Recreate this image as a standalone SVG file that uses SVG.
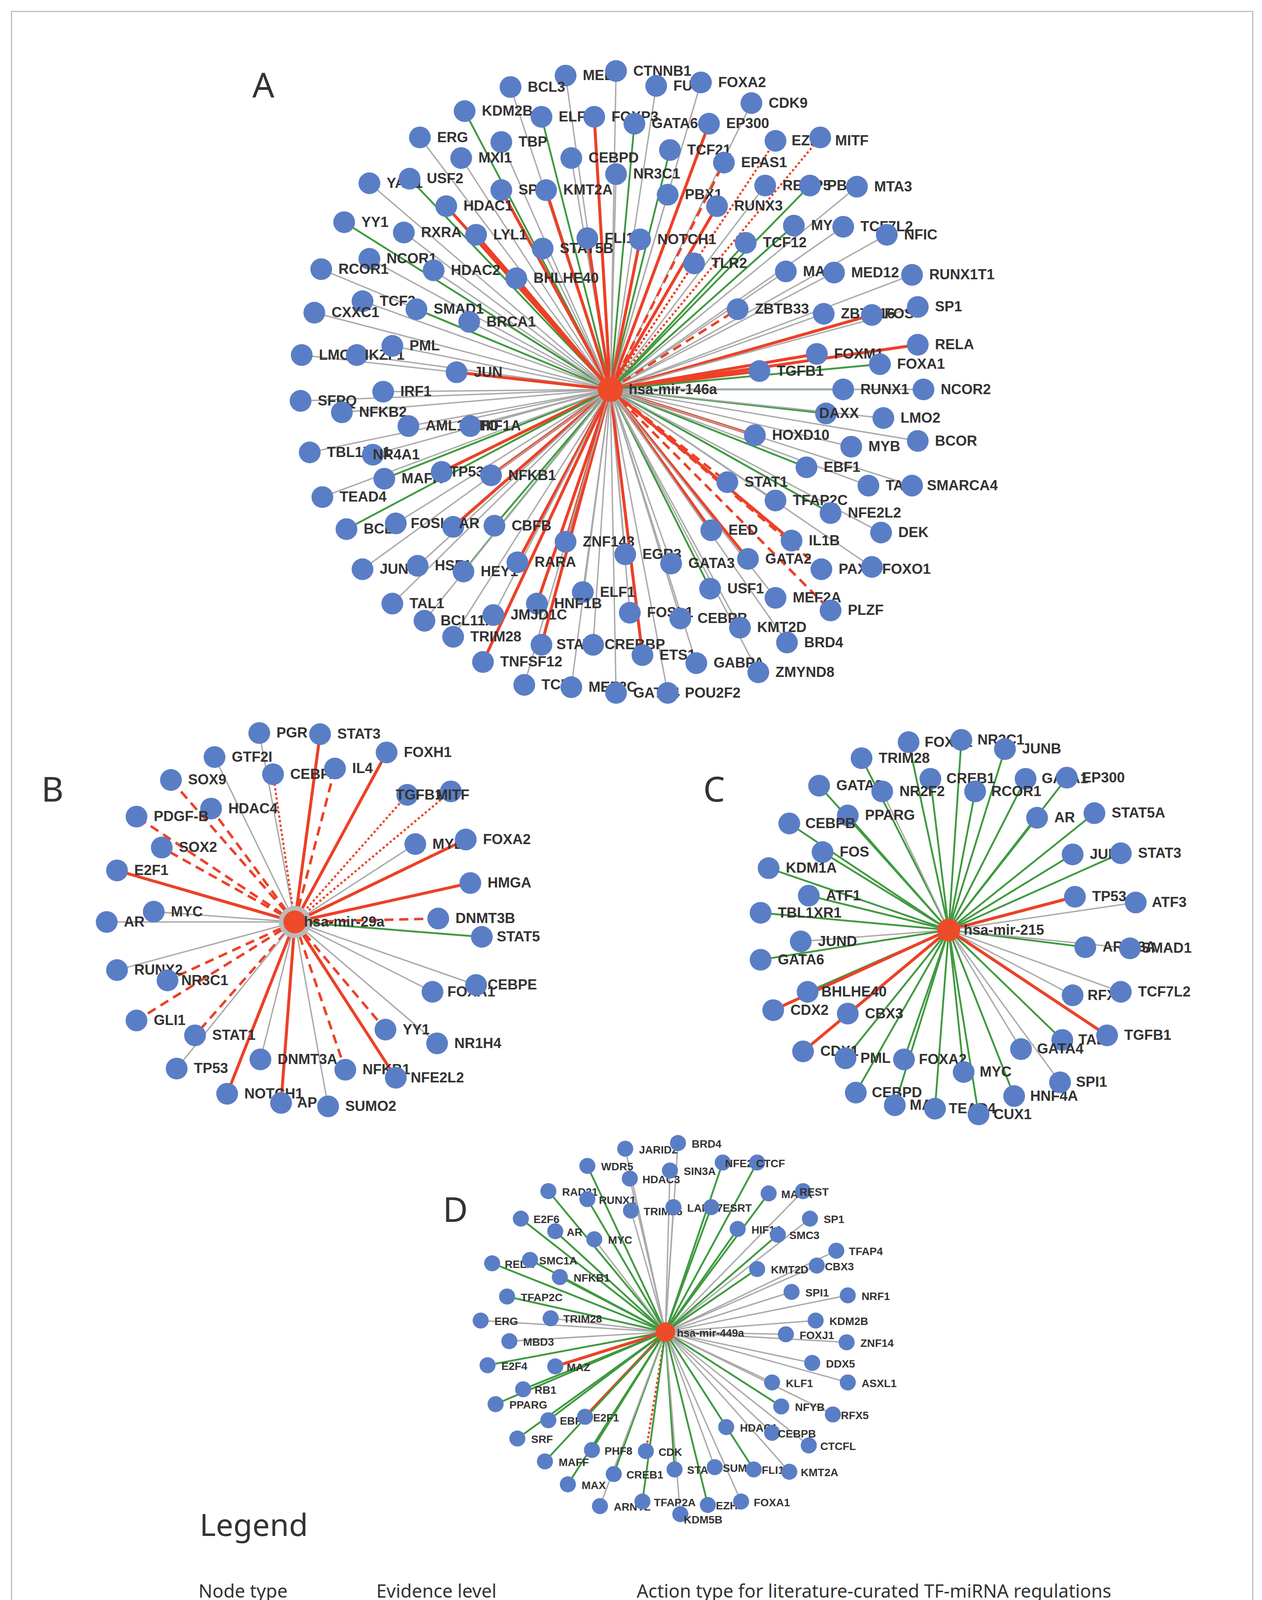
<svg xmlns="http://www.w3.org/2000/svg" width="3232" height="4598" viewBox="0 0 3232 4598">
<style>
.n{fill:#5a7ec6}
.h{fill:#ee4b2b}
.t{font-family:"Liberation Sans",Arial,sans-serif;font-weight:bold;font-size:12.5px;fill:#333}
.ts{font-family:"Liberation Sans",Arial,sans-serif;font-weight:bold;font-size:9.5px;fill:#333}
.L{font-family:"Noto Sans","Open Sans",sans-serif;fill:#333}
line{fill:none}
.g{stroke:#aaa;stroke-width:1.2}
.gr{stroke:#3f9a3f;stroke-width:1.6}
.r{stroke:#ec4127;stroke-width:2.6}
.rd{stroke:#ec4127;stroke-width:2.2;stroke-dasharray:8 5}
.rt{stroke:#ec4127;stroke-width:1.8;stroke-dasharray:2 2}
</style>
<defs>
<marker id="ak" viewBox="0 0 10 10" refX="10" refY="5" markerWidth="7" markerHeight="7" orient="auto"><path d="M0,1 L10,5 L0,9 z" fill="#111"/></marker>
<marker id="ag" viewBox="0 0 10 10" refX="10" refY="5" markerWidth="7" markerHeight="7" orient="auto"><path d="M0,1 L10,5 L0,9 z" fill="#3f9a3f"/></marker>
<marker id="ar" viewBox="0 0 10 10" refX="10" refY="5" markerWidth="7" markerHeight="7" orient="auto"><path d="M0,1 L10,5 L0,9 z" fill="#ec4127"/></marker>
</defs>
<rect width="3232" height="4598" fill="#fff"/>
<g transform="scale(2.938,2.932)">
<rect x="10" y="10" width="1082" height="1546" fill="none" stroke="#bbb" stroke-width="1"/>
<g class="L" font-size="30"><text x="220" y="85">A</text><text x="36" y="700">B</text><text x="613" y="700">C</text><text x="386" y="1067">D</text></g>

<g id="connectors">
<g transform="translate(532,340)">
<line class="g" x2="-39" y2="-274"/><line class="g" x2="5" y2="-278"/><line class="g" x2="40" y2="-265"/><line class="g" x2="79" y2="-268"/><line class="g" x2="-87" y2="-264"/><line class="gr" x2="-127" y2="-243"/><line class="gr" x2="-60" y2="-238"/><line class="r" x2="-14" y2="-238"/><line class="gr" x2="21" y2="-232"/><line class="g" x2="123" y2="-250"/><line class="r" x2="86" y2="-232"/><line class="g" x2="-166" y2="-220"/><line class="g" x2="-95" y2="-216"/><line class="g" x2="-130" y2="-202"/><line class="g" x2="-34" y2="-202"/><line class="gr" x2="52" y2="-209"/><line class="rd" x2="99" y2="-198"/><line class="rt" x2="144" y2="-217"/><line class="rt" x2="183" y2="-220"/>
<line class="g" x2="-210" y2="-180"/><line class="gr" x2="-175" y2="-184"/><line class="r" x2="-95" y2="-174"/><line class="r" x2="-56" y2="-174"/><line class="g" x2="5" y2="-188"/><line class="g" x2="50" y2="-170"/><line class="g" x2="135" y2="-178"/><line class="gr" x2="174" y2="-178"/><line class="g" x2="215" y2="-177"/><line class="r" x2="-143" y2="-160"/><line class="r" x2="-117" y2="-135"/><line class="r" x2="93" y2="-160"/><line class="gr" x2="-232" y2="-146"/><line class="g" x2="-180" y2="-137"/><line class="gr" x2="160" y2="-143"/><line class="g" x2="203" y2="-142"/><line class="g" x2="241" y2="-135"/><line class="g" x2="-59" y2="-123"/><line class="r" x2="-20" y2="-132"/><line class="r" x2="26" y2="-131"/><line class="gr" x2="118" y2="-128"/>
<line class="g" x2="-210" y2="-114"/><line class="g" x2="-154" y2="-104"/><line class="r" x2="-82" y2="-97"/><line class="rt" x2="73" y2="-110"/><line class="g" x2="153" y2="-103"/><line class="g" x2="195" y2="-102"/><line class="g" x2="263" y2="-100"/><line class="g" x2="-252" y2="-105"/><line class="g" x2="-216" y2="-77"/><line class="gr" x2="-169" y2="-70"/><line class="g" x2="-123" y2="-59"/><line class="rd" x2="111" y2="-70"/><line class="g" x2="186" y2="-66"/><line class="r" x2="228" y2="-65"/><line class="g" x2="268" y2="-72"/><line class="g" x2="-258" y2="-67"/><line class="g" x2="-269" y2="-30"/><line class="g" x2="-221" y2="-30"/><line class="g" x2="-190" y2="-38"/><line class="r" x2="-134" y2="-15"/><line class="r" x2="180" y2="-31"/><line class="r" x2="268" y2="-39"/><line class="r" x2="130" y2="-16"/><line class="gr" x2="235" y2="-22"/>
<line class="g" x2="-270" y2="10"/><line class="g" x2="-234" y2="20"/><line class="g" x2="-198" y2="2"/><line class="gr" x2="203" y2="0"/><line class="g" x2="273" y2="0"/><line class="g" x2="-176" y2="32"/><line class="g" x2="-122" y2="32"/><line class="gr" x2="188" y2="21"/><line class="g" x2="238" y2="25"/><line class="g" x2="-262" y2="55"/><line class="g" x2="-207" y2="57"/><line class="r" x2="126" y2="40"/><line class="g" x2="210" y2="50"/><line class="g" x2="268" y2="45"/><line class="gr" x2="-197" y2="78"/><line class="r" x2="-147" y2="72"/><line class="r" x2="-104" y2="75"/><line class="gr" x2="171" y2="68"/><line class="g" x2="225" y2="84"/><line class="g" x2="263" y2="84"/>
<line class="g" x2="-251" y2="94"/><line class="rd" x2="102" y2="81"/><line class="g" x2="144" y2="97"/><line class="gr" x2="192" y2="108"/><line class="gr" x2="-230" y2="122"/><line class="g" x2="-187" y2="117"/><line class="r" x2="-137" y2="120"/><line class="gr" x2="-101" y2="119"/><line class="r" x2="88" y2="123"/><line class="g" x2="236" y2="125"/><line class="r" x2="158" y2="132"/><line class="r" x2="-39" y2="133"/><line class="g" x2="13" y2="144"/><line class="g" x2="53" y2="152"/><line class="r" x2="120" y2="148"/><line class="rd" x2="184" y2="157"/><line class="g" x2="228" y2="155"/>
<line class="g" x2="-216" y2="157"/><line class="g" x2="-168" y2="154"/><line class="gr" x2="-128" y2="159"/><line class="r" x2="-81" y2="151"/><line class="g" x2="-24" y2="177"/><line class="gr" x2="87" y2="174"/><line class="g" x2="144" y2="182"/><line class="rd" x2="192" y2="193"/><line class="g" x2="-190" y2="187"/><line class="g" x2="-162" y2="202"/><line class="r" x2="-64" y2="187"/><line class="g" x2="-102" y2="197"/><line class="g" x2="17" y2="195"/><line class="g" x2="61" y2="200"/><line class="g" x2="113" y2="208"/><line class="g" x2="-137" y2="216"/><line class="r" x2="-60" y2="223"/><line class="g" x2="-15" y2="223"/><line class="r" x2="28" y2="232"/><line class="g" x2="154" y2="221"/><line class="r" x2="-111" y2="238"/><line class="g" x2="75" y2="239"/><line class="g" x2="129" y2="247"/><line class="g" x2="-75" y2="258"/><line class="g" x2="-34" y2="260"/><line class="g" x2="5" y2="265"/><line class="g" x2="50" y2="265"/>
</g>
<g transform="translate(257,805)">
<line class="g" x2="-31" y2="-165"/><line class="r" x2="22" y2="-164"/><line class="g" x2="-70" y2="-144"/><line class="rt" x2="-19" y2="-129"/><line class="rd" x2="35" y2="-134"/><line class="r" x2="80" y2="-148"/><line class="rd" x2="-108" y2="-124"/><line class="rt" x2="98" y2="-111"/><line class="rt" x2="136" y2="-114"/><line class="rd" x2="-73" y2="-99"/><line class="rd" x2="-138" y2="-92"/><line class="rd" x2="-116" y2="-65"/><line class="g" x2="105" y2="-68"/><line class="r" x2="149" y2="-72"/><line class="r" x2="-155" y2="-45"/><line class="r" x2="153" y2="-34"/><line class="g" x2="-123" y2="-9"/><line class="g" x2="-164" y2="0"/><line class="rd" x2="125" y2="-3"/><line class="gr" x2="163" y2="13"/><line class="g" x2="-155" y2="42"/><line class="rd" x2="-111" y2="51"/><line class="g" x2="120" y2="61"/><line class="g" x2="158" y2="55"/><line class="rd" x2="-138" y2="86"/><line class="rd" x2="-87" y2="99"/><line class="rd" x2="79" y2="94"/><line class="g" x2="124" y2="106"/><line class="g" x2="-103" y2="128"/><line class="g" x2="-30" y2="120"/><line class="rd" x2="44" y2="129"/><line class="r" x2="88" y2="136"/><line class="r" x2="-59" y2="150"/><line class="r" x2="-12" y2="158"/><line class="g" x2="29" y2="161"/>
</g>
<g transform="translate(827,812)">
<line class="gr" x2="-35" y2="-164"/><line class="gr" x2="11" y2="-166"/><line class="gr" x2="49" y2="-158"/><line class="gr" x2="-76" y2="-150"/><line class="gr" x2="-16" y2="-132"/><line class="gr" x2="67" y2="-132"/><line class="gr" x2="103" y2="-133"/><line class="gr" x2="-113" y2="-126"/><line class="g" x2="-58" y2="-121"/><line class="gr" x2="23" y2="-121"/><line class="gr" x2="-88" y2="-100"/><line class="gr" x2="127" y2="-102"/><line class="gr" x2="77" y2="-98"/><line class="gr" x2="-139" y2="-93"/><line class="gr" x2="-110" y2="-68"/><line class="gr" x2="108" y2="-66"/><line class="gr" x2="150" y2="-67"/><line class="gr" x2="-157" y2="-54"/><line class="gr" x2="-122" y2="-30"/><line class="r" x2="110" y2="-29"/><line class="g" x2="163" y2="-24"/><line class="gr" x2="-164" y2="-15"/><line class="g" x2="-129" y2="10"/><line class="gr" x2="119" y2="15"/><line class="g" x2="158" y2="16"/><line class="gr" x2="-164" y2="26"/><line class="gr" x2="-123" y2="54"/><line class="g" x2="108" y2="57"/><line class="g" x2="150" y2="54"/><line class="r" x2="-153" y2="70"/><line class="gr" x2="-88" y2="73"/><line class="r" x2="-127" y2="106"/><line class="gr" x2="-90" y2="112"/><line class="gr" x2="99" y2="96"/><line class="r" x2="138" y2="92"/><line class="gr" x2="-39" y2="113"/><line class="g" x2="63" y2="104"/><line class="gr" x2="13" y2="124"/><line class="gr" x2="-81" y2="142"/><line class="gr" x2="57" y2="145"/><line class="g" x2="97" y2="133"/><line class="gr" x2="-47" y2="153"/><line class="gr" x2="-12" y2="156"/><line class="gr" x2="26" y2="161"/>
</g>
<g transform="translate(580,1163)">
<line class="g" x2="-35" y2="-160"/><line class="g" x2="11" y2="-165"/><line class="gr" x2="-68" y2="-145"/><line class="g" x2="-31" y2="-134"/><line class="g" x2="4" y2="-141"/><line class="gr" x2="50" y2="-148"/><line class="gr" x2="80" y2="-148"/><line class="gr" x2="-102" y2="-123"/><line class="gr" x2="-68" y2="-116"/><line class="g" x2="-30" y2="-106"/><line class="g" x2="7" y2="-109"/><line class="gr" x2="40" y2="-109"/><line class="gr" x2="90" y2="-121"/><line class="g" x2="120" y2="-123"/><line class="gr" x2="-126" y2="-99"/><line class="g" x2="126" y2="-99"/><line class="gr" x2="-96" y2="-88"/><line class="g" x2="-62" y2="-81"/><line class="gr" x2="63" y2="-90"/><line class="gr" x2="98" y2="-85"/><line class="g" x2="149" y2="-71"/><line class="gr" x2="-151" y2="-60"/><line class="gr" x2="-118" y2="-63"/><line class="gr" x2="-92" y2="-48"/><line class="gr" x2="80" y2="-55"/><line class="g" x2="132" y2="-58"/><line class="gr" x2="-138" y2="-31"/><line class="g" x2="110" y2="-35"/><line class="g" x2="159" y2="-32"/><line class="g" x2="-161" y2="-10"/><line class="g" x2="-100" y2="-12"/><line class="g" x2="-136" y2="8"/><line class="g" x2="131" y2="-10"/><line class="g" x2="105" y2="2"/><line class="g" x2="158" y2="9"/><line class="gr" x2="-155" y2="29"/><line class="r" x2="-96" y2="30"/><line class="g" x2="128" y2="27"/><line class="gr" x2="-124" y2="50"/><line class="g" x2="93" y2="44"/><line class="g" x2="159" y2="44"/><line class="gr" x2="-148" y2="63"/><line class="gr" x2="-102" y2="77"/><line class="r" x2="-70" y2="74"/><line class="gr" x2="101" y2="65"/><line class="g" x2="146" y2="72"/><line class="g" x2="53" y2="83"/><line class="g" x2="93" y2="88"/><line class="gr" x2="-129" y2="93"/><line class="g" x2="125" y2="99"/><line class="gr" x2="-64" y2="103"/><line class="rt" x2="-17" y2="104"/><line class="gr" x2="-105" y2="113"/><line class="gr" x2="-45" y2="124"/><line class="gr" x2="8" y2="120"/><line class="g" x2="43" y2="118"/><line class="gr" x2="77" y2="120"/><line class="g" x2="108" y2="122"/><line class="gr" x2="-85" y2="133"/><line class="g" x2="-57" y2="152"/><line class="gr" x2="-20" y2="148"/><line class="gr" x2="37" y2="151"/><line class="g" x2="66" y2="148"/><line class="g" x2="13" y2="159"/>
</g>
</g>

<g id="panelA-nodes" class="t">
<g id="A-hub"><circle class="h" cx="532" cy="340" r="11"/><text x="548" y="344">hsa-mir-146a</text></g>
<g id="A-MED1"><circle class="n" cx="493" cy="66" r="9.5"/><text x="508" y="70">MED1</text></g>
<g id="A-CTNNB1"><circle class="n" cx="537" cy="62" r="9.5"/><text x="552" y="66">CTNNB1</text></g>
<g id="A-FUS"><circle class="n" cx="572" cy="75" r="9.5"/><text x="587" y="79">FUS</text></g>
<g id="A-FOXA2"><circle class="n" cx="611" cy="72" r="9.5"/><text x="626" y="76">FOXA2</text></g>
<g id="A-BCL3"><circle class="n" cx="445" cy="76" r="9.5"/><text x="460" y="80">BCL3</text></g>
<g id="A-KDM2B"><circle class="n" cx="405" cy="97" r="9.5"/><text x="420" y="101">KDM2B</text></g>
<g id="A-ELF3"><circle class="n" cx="472" cy="102" r="9.5"/><text x="487" y="106">ELF3</text></g>
<g id="A-FOXP3"><circle class="n" cx="518" cy="102" r="9.5"/><text x="533" y="106">FOXP3</text></g>
<g id="A-GATA6"><circle class="n" cx="553" cy="108" r="9.5"/><text x="568" y="112">GATA6</text></g>
<g id="A-CDK9"><circle class="n" cx="655" cy="90" r="9.5"/><text x="670" y="94">CDK9</text></g>
<g id="A-EP300"><circle class="n" cx="618" cy="108" r="9.5"/><text x="633" y="112">EP300</text></g>
<g id="A-ERG"><circle class="n" cx="366" cy="120" r="9.5"/><text x="381" y="124">ERG</text></g>
<g id="A-TBP"><circle class="n" cx="437" cy="124" r="9.5"/><text x="452" y="128">TBP</text></g>
<g id="A-MXI1"><circle class="n" cx="402" cy="138" r="9.5"/><text x="417" y="142">MXI1</text></g>
<g id="A-CEBPD"><circle class="n" cx="498" cy="138" r="9.5"/><text x="513" y="142">CEBPD</text></g>
<g id="A-TCF21"><circle class="n" cx="584" cy="131" r="9.5"/><text x="599" y="135">TCF21</text></g>
<g id="A-EPAS1"><circle class="n" cx="631" cy="142" r="9.5"/><text x="646" y="146">EPAS1</text></g>
<g id="A-EZH2"><circle class="n" cx="676" cy="123" r="9.5"/><text x="690" y="127">EZH2</text></g>
<g id="A-MITF"><circle class="n" cx="715" cy="120" r="9.5"/><text x="728" y="127">MITF</text></g>
<g id="A-YAP1"><circle class="n" cx="322" cy="160" r="9.5"/><text x="337" y="164">YAP1</text></g>
<g id="A-USF2"><circle class="n" cx="357" cy="156" r="9.5"/><text x="372" y="160">USF2</text></g>
<g id="A-SPI1"><circle class="n" cx="437" cy="166" r="9.5"/><text x="452" y="170">SPI1</text></g>
<g id="A-KMT2A"><circle class="n" cx="476" cy="166" r="9.5"/><text x="491" y="170">KMT2A</text></g>
<g id="A-NR3C1"><circle class="n" cx="537" cy="152" r="9.5"/><text x="552" y="156">NR3C1</text></g>
<g id="A-PBX1"><circle class="n" cx="582" cy="170" r="9.5"/><text x="597" y="174">PBX1</text></g>
<g id="A-RBBP5"><circle class="n" cx="667" cy="162" r="9.5"/><text x="682" y="166">RBBP5</text></g>
<g id="A-PBX3"><circle class="n" cx="706" cy="162" r="9.5"/><text x="721" y="166">PBX3</text></g>
<g id="A-MTA3"><circle class="n" cx="747" cy="163" r="9.5"/><text x="762" y="167">MTA3</text></g>
<g id="A-HDAC1"><circle class="n" cx="389" cy="180" r="9.5"/><text x="404" y="184">HDAC1</text></g>
<g id="A-LYL1"><circle class="n" cx="415" cy="205" r="9.5"/><text x="430" y="209">LYL1</text></g>
<g id="A-RUNX3"><circle class="n" cx="625" cy="180" r="9.5"/><text x="640" y="184">RUNX3</text></g>
<g id="A-YY1"><circle class="n" cx="300" cy="194" r="9.5"/><text x="315" y="198">YY1</text></g>
<g id="A-RXRA"><circle class="n" cx="352" cy="203" r="9.5"/><text x="367" y="207">RXRA</text></g>
<g id="A-MYC"><circle class="n" cx="692" cy="197" r="9.5"/><text x="707" y="201">MYC</text></g>
<g id="A-TCF7L2"><circle class="n" cx="735" cy="198" r="9.5"/><text x="750" y="202">TCF7L2</text></g>
<g id="A-NFIC"><circle class="n" cx="773" cy="205" r="9.5"/><text x="788" y="209">NFIC</text></g>
<g id="A-STAT5B"><circle class="n" cx="473" cy="217" r="9.5"/><text x="488" y="221">STAT5B</text></g>
<g id="A-FLI1"><circle class="n" cx="512" cy="208" r="9.5"/><text x="527" y="212">FLI1</text></g>
<g id="A-NOTCH1"><circle class="n" cx="558" cy="209" r="9.5"/><text x="573" y="213">NOTCH1</text></g>
<g id="A-TCF12"><circle class="n" cx="650" cy="212" r="9.5"/><text x="665" y="216">TCF12</text></g>
<g id="A-NCOR1"><circle class="n" cx="322" cy="226" r="9.5"/><text x="337" y="230">NCOR1</text></g>
<g id="A-HDAC2"><circle class="n" cx="378" cy="236" r="9.5"/><text x="393" y="240">HDAC2</text></g>
<g id="A-BHLHE40"><circle class="n" cx="450" cy="243" r="9.5"/><text x="465" y="247">BHLHE40</text></g>
<g id="A-TLR2"><circle class="n" cx="605" cy="230" r="9.5"/><text x="620" y="234">TLR2</text></g>
<g id="A-MAX"><circle class="n" cx="685" cy="237" r="9.5"/><text x="700" y="241">MAX</text></g>
<g id="A-MED12"><circle class="n" cx="727" cy="238" r="9.5"/><text x="742" y="242">MED12</text></g>
<g id="A-RUNX1T1"><circle class="n" cx="795" cy="240" r="9.5"/><text x="810" y="244">RUNX1T1</text></g>
<g id="A-RCOR1"><circle class="n" cx="280" cy="235" r="9.5"/><text x="295" y="239">RCOR1</text></g>
<g id="A-TCF3"><circle class="n" cx="316" cy="263" r="9.5"/><text x="331" y="267">TCF3</text></g>
<g id="A-SMAD1"><circle class="n" cx="363" cy="270" r="9.5"/><text x="378" y="274">SMAD1</text></g>
<g id="A-BRCA1"><circle class="n" cx="409" cy="281" r="9.5"/><text x="424" y="285">BRCA1</text></g>
<g id="A-ZBTB33"><circle class="n" cx="643" cy="270" r="9.5"/><text x="658" y="274">ZBTB33</text></g>
<g id="A-ZBTB16"><circle class="n" cx="718" cy="274" r="9.5"/><text x="733" y="278">ZBTB16</text></g>
<g id="A-FOS"><circle class="n" cx="760" cy="275" r="9.5"/><text x="771" y="278">FOS</text></g>
<g id="A-SP1"><circle class="n" cx="800" cy="268" r="9.5"/><text x="815" y="272">SP1</text></g>
<g id="A-CXXC1"><circle class="n" cx="274" cy="273" r="9.5"/><text x="289" y="277">CXXC1</text></g>
<g id="A-LMO3"><circle class="n" cx="263" cy="310" r="9.5"/><text x="278" y="314">LMO3</text></g>
<g id="A-IKZF1"><circle class="n" cx="311" cy="310" r="9.5"/><text x="318" y="314">IKZF1</text></g>
<g id="A-PML"><circle class="n" cx="342" cy="302" r="9.5"/><text x="357" y="306">PML</text></g>
<g id="A-JUN"><circle class="n" cx="398" cy="325" r="9.5"/><text x="413" y="329">JUN</text></g>
<g id="A-FOXM1"><circle class="n" cx="712" cy="309" r="9.5"/><text x="727" y="313">FOXM1</text></g>
<g id="A-RELA"><circle class="n" cx="800" cy="301" r="9.5"/><text x="815" y="305">RELA</text></g>
<g id="A-TGFB1"><circle class="n" cx="662" cy="324" r="9.5"/><text x="677" y="328">TGFB1</text></g>
<g id="A-FOXA1"><circle class="n" cx="767" cy="318" r="9.5"/><text x="782" y="322">FOXA1</text></g>
<g id="A-SFPQ"><circle class="n" cx="262" cy="350" r="9.5"/><text x="277" y="354">SFPQ</text></g>
<g id="A-NFKB2"><circle class="n" cx="298" cy="360" r="9.5"/><text x="313" y="364">NFKB2</text></g>
<g id="A-IRF1"><circle class="n" cx="334" cy="342" r="9.5"/><text x="349" y="346">IRF1</text></g>
<g id="A-RUNX1"><circle class="n" cx="735" cy="340" r="9.5"/><text x="750" y="344">RUNX1</text></g>
<g id="A-NCOR2"><circle class="n" cx="805" cy="340" r="9.5"/><text x="820" y="344">NCOR2</text></g>
<g id="A-AML1-ETO"><circle class="n" cx="356" cy="372" r="9.5"/><text x="371" y="376">AML1-ETO</text></g>
<g id="A-HIF1A"><circle class="n" cx="410" cy="372" r="9.5"/><text x="418" y="376">HIF1A</text></g>
<g id="A-DAXX"><circle class="n" cx="720" cy="361" r="9.5"/><text x="714" y="365">DAXX</text></g>
<g id="A-LMO2"><circle class="n" cx="770" cy="365" r="9.5"/><text x="785" y="369">LMO2</text></g>
<g id="A-TBL1XR1"><circle class="n" cx="270" cy="395" r="9.5"/><text x="285" y="399">TBL1XR1</text></g>
<g id="A-NR4A1"><circle class="n" cx="325" cy="397" r="9.5"/><text x="325" y="401">NR4A1</text></g>
<g id="A-HOXD10"><circle class="n" cx="658" cy="380" r="9.5"/><text x="673" y="384">HOXD10</text></g>
<g id="A-MYB"><circle class="n" cx="742" cy="390" r="9.5"/><text x="757" y="394">MYB</text></g>
<g id="A-BCOR"><circle class="n" cx="800" cy="385" r="9.5"/><text x="815" y="389">BCOR</text></g>
<g id="A-MAFK"><circle class="n" cx="335" cy="418" r="9.5"/><text x="350" y="422">MAFK</text></g>
<g id="A-TP53"><circle class="n" cx="385" cy="412" r="9.5"/><text x="392" y="416">TP53</text></g>
<g id="A-NFKB1"><circle class="n" cx="428" cy="415" r="9.5"/><text x="443" y="419">NFKB1</text></g>
<g id="A-EBF1"><circle class="n" cx="703" cy="408" r="9.5"/><text x="718" y="412">EBF1</text></g>
<g id="A-TAF1"><circle class="n" cx="757" cy="424" r="9.5"/><text x="772" y="428">TAF1</text></g>
<g id="A-SMARCA4"><circle class="n" cx="795" cy="424" r="9.5"/><text x="808" y="428">SMARCA4</text></g>
<g id="A-TEAD4"><circle class="n" cx="281" cy="434" r="9.5"/><text x="296" y="438">TEAD4</text></g>
<g id="A-STAT1"><circle class="n" cx="634" cy="421" r="9.5"/><text x="649" y="425">STAT1</text></g>
<g id="A-TFAP2C"><circle class="n" cx="676" cy="437" r="9.5"/><text x="691" y="441">TFAP2C</text></g>
<g id="A-NFE2L2"><circle class="n" cx="724" cy="448" r="9.5"/><text x="739" y="452">NFE2L2</text></g>
<g id="A-BCL6"><circle class="n" cx="302" cy="462" r="9.5"/><text x="317" y="466">BCL6</text></g>
<g id="A-FOSL2"><circle class="n" cx="345" cy="457" r="9.5"/><text x="358" y="461">FOSL2</text></g>
<g id="A-AR"><circle class="n" cx="395" cy="460" r="9.5"/><text x="400" y="461">AR</text></g>
<g id="A-CBFB"><circle class="n" cx="431" cy="459" r="9.5"/><text x="446" y="463">CBFB</text></g>
<g id="A-EED"><circle class="n" cx="620" cy="463" r="9.5"/><text x="635" y="467">EED</text></g>
<g id="A-DEK"><circle class="n" cx="768" cy="465" r="9.5"/><text x="783" y="469">DEK</text></g>
<g id="A-IL1B"><circle class="n" cx="690" cy="472" r="9.5"/><text x="705" y="476">IL1B</text></g>
<g id="A-ZNF143"><circle class="n" cx="493" cy="473" r="9.5"/><text x="508" y="477">ZNF143</text></g>
<g id="A-EGR3"><circle class="n" cx="545" cy="484" r="9.5"/><text x="560" y="488">EGR3</text></g>
<g id="A-GATA3"><circle class="n" cx="585" cy="492" r="9.5"/><text x="600" y="496">GATA3</text></g>
<g id="A-GATA2"><circle class="n" cx="652" cy="488" r="9.5"/><text x="667" y="492">GATA2</text></g>
<g id="A-PAX5"><circle class="n" cx="716" cy="497" r="9.5"/><text x="731" y="501">PAX5</text></g>
<g id="A-FOXO1"><circle class="n" cx="760" cy="495" r="9.5"/><text x="769" y="501">FOXO1</text></g>
<g id="A-JUND"><circle class="n" cx="316" cy="497" r="9.5"/><text x="331" y="501">JUND</text></g>
<g id="A-HSF1"><circle class="n" cx="364" cy="494" r="9.5"/><text x="379" y="498">HSF1</text></g>
<g id="A-HEY1"><circle class="n" cx="404" cy="499" r="9.5"/><text x="419" y="503">HEY1</text></g>
<g id="A-RARA"><circle class="n" cx="451" cy="491" r="9.5"/><text x="466" y="495">RARA</text></g>
<g id="A-ELF1"><circle class="n" cx="508" cy="517" r="9.5"/><text x="523" y="521">ELF1</text></g>
<g id="A-USF1"><circle class="n" cx="619" cy="514" r="9.5"/><text x="634" y="518">USF1</text></g>
<g id="A-MEF2A"><circle class="n" cx="676" cy="522" r="9.5"/><text x="691" y="526">MEF2A</text></g>
<g id="A-PLZF"><circle class="n" cx="724" cy="533" r="9.5"/><text x="739" y="537">PLZF</text></g>
<g id="A-TAL1"><circle class="n" cx="342" cy="527" r="9.5"/><text x="357" y="531">TAL1</text></g>
<g id="A-BCL11A"><circle class="n" cx="370" cy="542" r="9.5"/><text x="384" y="546">BCL11A</text></g>
<g id="A-HNF1B"><circle class="n" cx="468" cy="527" r="9.5"/><text x="483" y="531">HNF1B</text></g>
<g id="A-JMJD1C"><circle class="n" cx="430" cy="537" r="9.5"/><text x="445" y="541">JMJD1C</text></g>
<g id="A-FOSL1"><circle class="n" cx="549" cy="535" r="9.5"/><text x="564" y="539">FOSL1</text></g>
<g id="A-CEBPB"><circle class="n" cx="593" cy="540" r="9.5"/><text x="608" y="544">CEBPB</text></g>
<g id="A-KMT2D"><circle class="n" cx="645" cy="548" r="9.5"/><text x="660" y="552">KMT2D</text></g>
<g id="A-TRIM28"><circle class="n" cx="395" cy="556" r="9.5"/><text x="410" y="560">TRIM28</text></g>
<g id="A-STAT3"><circle class="n" cx="472" cy="563" r="9.5"/><text x="485" y="567">STAT3</text></g>
<g id="A-CREBBP"><circle class="n" cx="517" cy="563" r="9.5"/><text x="527" y="567">CREBBP</text></g>
<g id="A-ETS1"><circle class="n" cx="560" cy="572" r="9.5"/><text x="575" y="576">ETS1</text></g>
<g id="A-BRD4"><circle class="n" cx="686" cy="561" r="9.5"/><text x="701" y="565">BRD4</text></g>
<g id="A-TNFSF12"><circle class="n" cx="421" cy="578" r="9.5"/><text x="436" y="582">TNFSF12</text></g>
<g id="A-GABPA"><circle class="n" cx="607" cy="579" r="9.5"/><text x="622" y="583">GABPA</text></g>
<g id="A-ZMYND8"><circle class="n" cx="661" cy="587" r="9.5"/><text x="676" y="591">ZMYND8</text></g>
<g id="A-TCF4"><circle class="n" cx="457" cy="598" r="9.5"/><text x="472" y="602">TCF4</text></g>
<g id="A-MEF2C"><circle class="n" cx="498" cy="600" r="9.5"/><text x="513" y="604">MEF2C</text></g>
<g id="A-GATA4"><circle class="n" cx="537" cy="605" r="9.5"/><text x="552" y="609">GATA4</text></g>
<g id="A-POU2F2"><circle class="n" cx="582" cy="605" r="9.5"/><text x="597" y="609">POU2F2</text></g>
</g>

<g id="panelB-nodes" class="t">
<g id="B-hub"><circle cx="257" cy="805" r="14" fill="#bbb"/><circle class="h" cx="257" cy="805" r="10"/><text x="265" y="809">hsa-mir-29a</text></g>
<g id="B-PGR"><circle class="n" cx="226" cy="640" r="9.5"/><text x="241" y="644">PGR</text></g>
<g id="B-STAT3"><circle class="n" cx="279" cy="641" r="9.5"/><text x="294" y="645">STAT3</text></g>
<g id="B-GTF2I"><circle class="n" cx="187" cy="661" r="9.5"/><text x="202" y="665">GTF2I</text></g>
<g id="B-CEBPA"><circle class="n" cx="238" cy="676" r="9.5"/><text x="253" y="680">CEBPA</text></g>
<g id="B-IL4"><circle class="n" cx="292" cy="671" r="9.5"/><text x="307" y="675">IL4</text></g>
<g id="B-FOXH1"><circle class="n" cx="337" cy="657" r="9.5"/><text x="352" y="661">FOXH1</text></g>
<g id="B-SOX9"><circle class="n" cx="149" cy="681" r="9.5"/><text x="164" y="685">SOX9</text></g>
<g id="B-TGFB1"><circle class="n" cx="355" cy="694" r="9.5"/><text x="345" y="698">TGFB1</text></g>
<g id="B-MITF"><circle class="n" cx="393" cy="691" r="9.5"/><text x="380" y="698">MITF</text></g>
<g id="B-HDAC4"><circle class="n" cx="184" cy="706" r="9.5"/><text x="199" y="710">HDAC4</text></g>
<g id="B-PDGF-B"><circle class="n" cx="119" cy="713" r="9.5"/><text x="134" y="717">PDGF-B</text></g>
<g id="B-SOX2"><circle class="n" cx="141" cy="740" r="9.5"/><text x="156" y="744">SOX2</text></g>
<g id="B-MYB"><circle class="n" cx="362" cy="737" r="9.5"/><text x="377" y="741">MYB</text></g>
<g id="B-FOXA2"><circle class="n" cx="406" cy="733" r="9.5"/><text x="421" y="737">FOXA2</text></g>
<g id="B-E2F1"><circle class="n" cx="102" cy="760" r="9.5"/><text x="117" y="764">E2F1</text></g>
<g id="B-HMGA"><circle class="n" cx="410" cy="771" r="9.5"/><text x="425" y="775">HMGA</text></g>
<g id="B-MYC"><circle class="n" cx="134" cy="796" r="9.5"/><text x="149" y="800">MYC</text></g>
<g id="B-AR"><circle class="n" cx="93" cy="805" r="9.5"/><text x="108" y="809">AR</text></g>
<g id="B-DNMT3B"><circle class="n" cx="382" cy="802" r="9.5"/><text x="397" y="806">DNMT3B</text></g>
<g id="B-STAT5"><circle class="n" cx="420" cy="818" r="9.5"/><text x="433" y="822">STAT5</text></g>
<g id="B-RUNX2"><circle class="n" cx="102" cy="847" r="9.5"/><text x="117" y="851">RUNX2</text></g>
<g id="B-NR3C1"><circle class="n" cx="146" cy="856" r="9.5"/><text x="158" y="860">NR3C1</text></g>
<g id="B-FOXA1"><circle class="n" cx="377" cy="866" r="9.5"/><text x="390" y="870">FOXA1</text></g>
<g id="B-CEBPE"><circle class="n" cx="415" cy="860" r="9.5"/><text x="425" y="864">CEBPE</text></g>
<g id="B-GLI1"><circle class="n" cx="119" cy="891" r="9.5"/><text x="134" y="895">GLI1</text></g>
<g id="B-STAT1"><circle class="n" cx="170" cy="904" r="9.5"/><text x="185" y="908">STAT1</text></g>
<g id="B-YY1"><circle class="n" cx="336" cy="899" r="9.5"/><text x="351" y="903">YY1</text></g>
<g id="B-NR1H4"><circle class="n" cx="381" cy="911" r="9.5"/><text x="396" y="915">NR1H4</text></g>
<g id="B-TP53"><circle class="n" cx="154" cy="933" r="9.5"/><text x="169" y="937">TP53</text></g>
<g id="B-DNMT3A"><circle class="n" cx="227" cy="925" r="9.5"/><text x="242" y="929">DNMT3A</text></g>
<g id="B-NFKB1"><circle class="n" cx="301" cy="934" r="9.5"/><text x="316" y="938">NFKB1</text></g>
<g id="B-NFE2L2"><circle class="n" cx="345" cy="941" r="9.5"/><text x="358" y="945">NFE2L2</text></g>
<g id="B-NOTCH1"><circle class="n" cx="198" cy="955" r="9.5"/><text x="213" y="959">NOTCH1</text></g>
<g id="B-AP-1"><circle class="n" cx="245" cy="963" r="9.5"/><text x="259" y="967">AP-1</text></g>
<g id="B-SUMO2"><circle class="n" cx="286" cy="966" r="9.5"/><text x="301" y="970">SUMO2</text></g>
</g>

<g id="panelC-nodes" class="t">
<g id="C-hub"><circle class="h" cx="827" cy="812" r="10"/><text x="840" y="816">hsa-mir-215</text></g>
<g id="C-FOXA1"><circle class="n" cx="792" cy="648" r="9.5"/><text x="806" y="652">FOXA1</text></g>
<g id="C-NR3C1"><circle class="n" cx="838" cy="646" r="9.5"/><text x="852" y="650">NR3C1</text></g>
<g id="C-JUNB"><circle class="n" cx="876" cy="654" r="9.5"/><text x="891" y="658">JUNB</text></g>
<g id="C-TRIM28"><circle class="n" cx="751" cy="662" r="9.5"/><text x="766" y="666">TRIM28</text></g>
<g id="C-CREB1"><circle class="n" cx="811" cy="680" r="9.5"/><text x="825" y="684">CREB1</text></g>
<g id="C-GATA1"><circle class="n" cx="894" cy="680" r="9.5"/><text x="908" y="684">GATA1</text></g>
<g id="C-EP300"><circle class="n" cx="930" cy="679" r="9.5"/><text x="943" y="683">EP300</text></g>
<g id="C-GATA2"><circle class="n" cx="714" cy="686" r="9.5"/><text x="729" y="690">GATA2</text></g>
<g id="C-NR2F2"><circle class="n" cx="769" cy="691" r="9.5"/><text x="784" y="695">NR2F2</text></g>
<g id="C-RCOR1"><circle class="n" cx="850" cy="691" r="9.5"/><text x="864" y="695">RCOR1</text></g>
<g id="C-PPARG"><circle class="n" cx="739" cy="712" r="9.5"/><text x="754" y="716">PPARG</text></g>
<g id="C-STAT5A"><circle class="n" cx="954" cy="710" r="9.5"/><text x="969" y="714">STAT5A</text></g>
<g id="C-AR"><circle class="n" cx="904" cy="714" r="9.5"/><text x="919" y="718">AR</text></g>
<g id="C-CEBPB"><circle class="n" cx="688" cy="719" r="9.5"/><text x="702" y="723">CEBPB</text></g>
<g id="C-FOS"><circle class="n" cx="717" cy="744" r="9.5"/><text x="732" y="748">FOS</text></g>
<g id="C-JUN"><circle class="n" cx="935" cy="746" r="9.5"/><text x="950" y="750">JUN</text></g>
<g id="C-STAT3"><circle class="n" cx="977" cy="745" r="9.5"/><text x="992" y="749">STAT3</text></g>
<g id="C-KDM1A"><circle class="n" cx="670" cy="758" r="9.5"/><text x="685" y="762">KDM1A</text></g>
<g id="C-ATF1"><circle class="n" cx="705" cy="782" r="9.5"/><text x="720" y="786">ATF1</text></g>
<g id="C-TP53"><circle class="n" cx="937" cy="783" r="9.5"/><text x="952" y="787">TP53</text></g>
<g id="C-ATF3"><circle class="n" cx="990" cy="788" r="9.5"/><text x="1004" y="792">ATF3</text></g>
<g id="C-TBL1XR1"><circle class="n" cx="663" cy="797" r="9.5"/><text x="678" y="801">TBL1XR1</text></g>
<g id="C-JUND"><circle class="n" cx="698" cy="822" r="9.5"/><text x="713" y="826">JUND</text></g>
<g id="C-ARID3A"><circle class="n" cx="946" cy="827" r="9.5"/><text x="961" y="831">ARID3A</text></g>
<g id="C-SMAD1"><circle class="n" cx="985" cy="828" r="9.5"/><text x="995" y="832">SMAD1</text></g>
<g id="C-GATA6"><circle class="n" cx="663" cy="838" r="9.5"/><text x="678" y="842">GATA6</text></g>
<g id="C-BHLHE40"><circle class="n" cx="704" cy="866" r="9.5"/><text x="716" y="870">BHLHE40</text></g>
<g id="C-RFX5"><circle class="n" cx="935" cy="869" r="9.5"/><text x="948" y="873">RFX5</text></g>
<g id="C-TCF7L2"><circle class="n" cx="977" cy="866" r="9.5"/><text x="992" y="870">TCF7L2</text></g>
<g id="C-CDX2"><circle class="n" cx="674" cy="882" r="9.5"/><text x="689" y="886">CDX2</text></g>
<g id="C-CBX3"><circle class="n" cx="739" cy="885" r="9.5"/><text x="754" y="889">CBX3</text></g>
<g id="C-CDX1"><circle class="n" cx="700" cy="918" r="9.5"/><text x="715" y="922">CDX1</text></g>
<g id="C-PML"><circle class="n" cx="737" cy="924" r="9.5"/><text x="750" y="928">PML</text></g>
<g id="C-TAL1"><circle class="n" cx="926" cy="908" r="9.5"/><text x="940" y="912">TAL1</text></g>
<g id="C-TGFB1"><circle class="n" cx="965" cy="904" r="9.5"/><text x="980" y="908">TGFB1</text></g>
<g id="C-FOXA2"><circle class="n" cx="788" cy="925" r="9.5"/><text x="801" y="929">FOXA2</text></g>
<g id="C-GATA4"><circle class="n" cx="890" cy="916" r="9.5"/><text x="904" y="920">GATA4</text></g>
<g id="C-MYC"><circle class="n" cx="840" cy="936" r="9.5"/><text x="854" y="940">MYC</text></g>
<g id="C-CEBPD"><circle class="n" cx="746" cy="954" r="9.5"/><text x="760" y="958">CEBPD</text></g>
<g id="C-HNF4A"><circle class="n" cx="884" cy="957" r="9.5"/><text x="898" y="961">HNF4A</text></g>
<g id="C-SPI1"><circle class="n" cx="924" cy="945" r="9.5"/><text x="938" y="949">SPI1</text></g>
<g id="C-MAX"><circle class="n" cx="780" cy="965" r="9.5"/><text x="793" y="969">MAX</text></g>
<g id="C-TEAD4"><circle class="n" cx="815" cy="968" r="9.5"/><text x="827" y="972">TEAD4</text></g>
<g id="C-CUX1"><circle class="n" cx="853" cy="973" r="9.5"/><text x="866" y="977">CUX1</text></g>
</g>

<g id="panelD-nodes" class="ts">
<g id="D-hub"><circle class="h" cx="580" cy="1163" r="8.5"/><text x="590" y="1167">hsa-mir-449a</text></g>
<g id="D-JARID2"><circle class="n" cx="545" cy="1003" r="7"/><text x="557" y="1007">JARID2</text></g>
<g id="D-BRD4"><circle class="n" cx="591" cy="998" r="7"/><text x="603" y="1002">BRD4</text></g>
<g id="D-WDR5"><circle class="n" cx="512" cy="1018" r="7"/><text x="524" y="1022">WDR5</text></g>
<g id="D-HDAC3"><circle class="n" cx="549" cy="1029" r="7"/><text x="560" y="1033">HDAC3</text></g>
<g id="D-SIN3A"><circle class="n" cx="584" cy="1022" r="7"/><text x="596" y="1026">SIN3A</text></g>
<g id="D-NFE2"><circle class="n" cx="630" cy="1015" r="7"/><text x="632" y="1019">NFE2</text></g>
<g id="D-CTCF"><circle class="n" cx="660" cy="1015" r="7"/><text x="659" y="1019">CTCF</text></g>
<g id="D-RAD21"><circle class="n" cx="478" cy="1040" r="7"/><text x="490" y="1044">RAD21</text></g>
<g id="D-RUNX1"><circle class="n" cx="512" cy="1047" r="7"/><text x="522" y="1051">RUNX1</text></g>
<g id="D-TRIM25"><circle class="n" cx="550" cy="1057" r="7"/><text x="561" y="1061">TRIM25</text></g>
<g id="D-LARP7"><circle class="n" cx="587" cy="1054" r="7"/><text x="599" y="1058">LARP7</text></g>
<g id="D-ESRT"><circle class="n" cx="620" cy="1054" r="7"/><text x="630" y="1058">ESRT</text></g>
<g id="D-MAFK"><circle class="n" cx="670" cy="1042" r="7"/><text x="681" y="1046">MAFK</text></g>
<g id="D-REST"><circle class="n" cx="700" cy="1040" r="7"/><text x="697" y="1044">REST</text></g>
<g id="D-E2F6"><circle class="n" cx="454" cy="1064" r="7"/><text x="465" y="1068">E2F6</text></g>
<g id="D-SP1"><circle class="n" cx="706" cy="1064" r="7"/><text x="718" y="1068">SP1</text></g>
<g id="D-AR"><circle class="n" cx="484" cy="1075" r="7"/><text x="494" y="1079">AR</text></g>
<g id="D-MYC"><circle class="n" cx="518" cy="1082" r="7"/><text x="530" y="1086">MYC</text></g>
<g id="D-HIF1A"><circle class="n" cx="643" cy="1073" r="7"/><text x="655" y="1077">HIF1A</text></g>
<g id="D-SMC3"><circle class="n" cx="678" cy="1078" r="7"/><text x="688" y="1082">SMC3</text></g>
<g id="D-TFAP4"><circle class="n" cx="729" cy="1092" r="7"/><text x="740" y="1096">TFAP4</text></g>
<g id="D-RELA"><circle class="n" cx="429" cy="1103" r="7"/><text x="440" y="1107">RELA</text></g>
<g id="D-SMC1A"><circle class="n" cx="462" cy="1100" r="7"/><text x="470" y="1104">SMC1A</text></g>
<g id="D-NFKB1"><circle class="n" cx="488" cy="1115" r="7"/><text x="500" y="1119">NFKB1</text></g>
<g id="D-KMT2D"><circle class="n" cx="660" cy="1108" r="7"/><text x="672" y="1112">KMT2D</text></g>
<g id="D-CBX3"><circle class="n" cx="712" cy="1105" r="7"/><text x="719" y="1109">CBX3</text></g>
<g id="D-TFAP2C"><circle class="n" cx="442" cy="1132" r="7"/><text x="454" y="1136">TFAP2C</text></g>
<g id="D-SPI1"><circle class="n" cx="690" cy="1128" r="7"/><text x="702" y="1132">SPI1</text></g>
<g id="D-NRF1"><circle class="n" cx="739" cy="1131" r="7"/><text x="751" y="1135">NRF1</text></g>
<g id="D-ERG"><circle class="n" cx="419" cy="1153" r="7"/><text x="431" y="1157">ERG</text></g>
<g id="D-TRIM28"><circle class="n" cx="480" cy="1151" r="7"/><text x="491" y="1155">TRIM28</text></g>
<g id="D-MBD3"><circle class="n" cx="444" cy="1171" r="7"/><text x="456" y="1175">MBD3</text></g>
<g id="D-KDM2B"><circle class="n" cx="711" cy="1153" r="7"/><text x="723" y="1157">KDM2B</text></g>
<g id="D-FOXJ1"><circle class="n" cx="685" cy="1165" r="7"/><text x="697" y="1169">FOXJ1</text></g>
<g id="D-ZNF14"><circle class="n" cx="738" cy="1172" r="7"/><text x="750" y="1176">ZNF14</text></g>
<g id="D-E2F4"><circle class="n" cx="425" cy="1192" r="7"/><text x="437" y="1196">E2F4</text></g>
<g id="D-MAZ"><circle class="n" cx="484" cy="1193" r="7"/><text x="494" y="1197">MAZ</text></g>
<g id="D-DDX5"><circle class="n" cx="708" cy="1190" r="7"/><text x="720" y="1194">DDX5</text></g>
<g id="D-RB1"><circle class="n" cx="456" cy="1213" r="7"/><text x="466" y="1217">RB1</text></g>
<g id="D-KLF1"><circle class="n" cx="673" cy="1207" r="7"/><text x="685" y="1211">KLF1</text></g>
<g id="D-ASXL1"><circle class="n" cx="739" cy="1207" r="7"/><text x="751" y="1211">ASXL1</text></g>
<g id="D-PPARG"><circle class="n" cx="432" cy="1226" r="7"/><text x="444" y="1230">PPARG</text></g>
<g id="D-EBF1"><circle class="n" cx="478" cy="1240" r="7"/><text x="488" y="1244">EBF1</text></g>
<g id="D-E2F1"><circle class="n" cx="510" cy="1237" r="7"/><text x="517" y="1241">E2F1</text></g>
<g id="D-NFYB"><circle class="n" cx="681" cy="1228" r="7"/><text x="693" y="1232">NFYB</text></g>
<g id="D-RFX5"><circle class="n" cx="726" cy="1235" r="7"/><text x="733" y="1239">RFX5</text></g>
<g id="D-HDAC1"><circle class="n" cx="633" cy="1246" r="7"/><text x="645" y="1250">HDAC1</text></g>
<g id="D-CEBPB"><circle class="n" cx="673" cy="1251" r="7"/><text x="678" y="1255">CEBPB</text></g>
<g id="D-SRF"><circle class="n" cx="451" cy="1256" r="7"/><text x="463" y="1260">SRF</text></g>
<g id="D-CTCFL"><circle class="n" cx="705" cy="1262" r="7"/><text x="715" y="1266">CTCFL</text></g>
<g id="D-PHF8"><circle class="n" cx="516" cy="1266" r="7"/><text x="527" y="1270">PHF8</text></g>
<g id="D-CDK"><circle class="n" cx="563" cy="1267" r="7"/><text x="574" y="1271">CDK</text></g>
<g id="D-MAFF"><circle class="n" cx="475" cy="1276" r="7"/><text x="487" y="1280">MAFF</text></g>
<g id="D-CREB1"><circle class="n" cx="535" cy="1287" r="7"/><text x="546" y="1291">CREB1</text></g>
<g id="D-STAG"><circle class="n" cx="588" cy="1283" r="7"/><text x="599" y="1287">STAG</text></g>
<g id="D-SUMO2"><circle class="n" cx="623" cy="1281" r="7"/><text x="630" y="1285">SUMO2</text></g>
<g id="D-FLI1"><circle class="n" cx="657" cy="1283" r="7"/><text x="664" y="1287">FLI1</text></g>
<g id="D-KMT2A"><circle class="n" cx="688" cy="1285" r="7"/><text x="698" y="1289">KMT2A</text></g>
<g id="D-MAX"><circle class="n" cx="495" cy="1296" r="7"/><text x="507" y="1300">MAX</text></g>
<g id="D-ARNTL"><circle class="n" cx="523" cy="1315" r="7"/><text x="535" y="1319">ARNTL</text></g>
<g id="D-TFAP2A"><circle class="n" cx="560" cy="1311" r="7"/><text x="570" y="1315">TFAP2A</text></g>
<g id="D-EZH2"><circle class="n" cx="617" cy="1314" r="7"/><text x="624" y="1318">EZH2</text></g>
<g id="D-FOXA1"><circle class="n" cx="646" cy="1311" r="7"/><text x="657" y="1315">FOXA1</text></g>
<g id="D-KDM5B"><circle class="n" cx="593" cy="1322" r="7"/><text x="596" y="1330">KDM5B</text></g>
</g>

<g id="legend" class="L">
<text x="174" y="1341" font-size="27">Legend</text>
<g font-size="16"><text x="173" y="1395">Node type</text><text x="328" y="1395">Evidence level</text><text x="555" y="1395">Action type for literature-curated TF-miRNA regulations</text>
<text x="220" y="1432">miRNA</text><text x="230" y="1482">TF</text>
<text x="442" y="1428">Level 1</text><text x="442" y="1460">Level 2</text><text x="442" y="1491">Literature</text>
<text x="679" y="1430">Activation</text><text x="681" y="1460">Represion</text><text x="679" y="1491">Regulation</text><text x="681" y="1521">Activation or Repression</text></g>
<circle cx="186" cy="1428" r="15" fill="#e8342a"/><circle cx="186" cy="1478" r="15" fill="#4e86c8"/>
<line x1="320" y1="1422" x2="430" y2="1422" stroke="#111" stroke-width="1.3" marker-end="url(#ak)"/>
<line x1="320" y1="1455" x2="430" y2="1455" stroke="#3f9a3f" stroke-width="1.5" marker-end="url(#ag)"/>
<line x1="320" y1="1486" x2="430" y2="1486" stroke="#ec4127" stroke-width="1.5" marker-end="url(#ar)"/>
<line x1="555" y1="1425" x2="668" y2="1425" stroke="#ec4127" stroke-width="1.5" marker-end="url(#ar)"/>
<line x1="555" y1="1455" x2="668" y2="1455" stroke="#ec4127" stroke-width="1.5" stroke-dasharray="8 4" marker-end="url(#ar)"/>
<line x1="555" y1="1486" x2="668" y2="1486" stroke="#ec4127" stroke-width="1.5" stroke-dasharray="2 2" marker-end="url(#ar)"/>
<line x1="555" y1="1516" x2="668" y2="1516" stroke="#ec4127" stroke-width="1.5" stroke-dasharray="8 3 2 3" marker-end="url(#ar)"/>
</g>
</g>
</svg>
